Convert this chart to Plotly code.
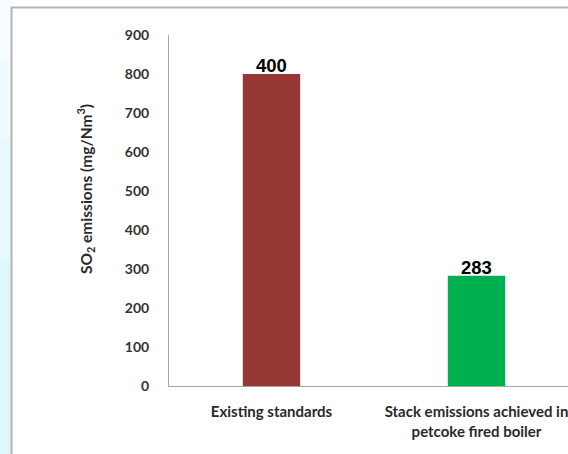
import plotly.graph_objects as go

# Chart data
categories = ["Existing standards", "Stack emissions achieved in<br>petcoke fired boiler"]
so2_values = [800, 283]
bar_labels = ["400", "283"]
bar_colors = ["#953735", "#00b050"]
y_ticks = [0, 100, 200, 300, 400, 500, 600, 700, 800, 900]
y_title = "SO<sub>2</sub> emissions (mg/Nm<sup>3</sup>)"

W, H = 568, 454
# plot area in pixels
L, R, T, B = 169, 568, 35, 386


def px_x(p):
    return (p - L) / (R - L)


def px_y(p):
    return (B - p) / (B - T)


fig = go.Figure()
fig.add_trace(go.Bar(
    x=[0, 1],
    y=so2_values,
    width=0.28,
    marker=dict(color=bar_colors, line=dict(width=0)),
    hoverinfo="skip",
))

annotations = []
# value labels sitting on top of each bar
for i, (v, lab) in enumerate(zip(so2_values, bar_labels)):
    annotations.append(dict(
        x=i, y=v, xref="x", yref="y", text=lab, showarrow=False,
        xanchor="center", yanchor="bottom", yshift=-4,
        font=dict(family="Arial", size=18.5, color="#000000", weight="bold"),
    ))
# rotated y-axis title
annotations.append(dict(
    x=px_x(86), y=px_y(189), xref="paper", yref="paper", text=y_title,
    showarrow=False, textangle=-90, xanchor="center", yanchor="middle",
    font=dict(family="Lato", size=15.5, color="#2a2a2a", weight="bold"),
))

shapes = []
# light aqua strip along the left edge of the page
strip = [(0, 60, "#f7fdfe"), (60, 140, "#eefbfc"), (140, 260, "#e6f9fb"), (260, 460, "#def7f9")]
for y0, y1, c in strip:
    shapes.append(dict(type="rect", xref="paper", yref="paper",
                       x0=px_x(-2), x1=px_x(11), y0=px_y(y1), y1=px_y(y0),
                       fillcolor=c, line=dict(width=0), layer="below"))
# outer frame
shapes.append(dict(type="rect", xref="paper", yref="paper",
                   x0=px_x(11.5), x1=px_x(600), y0=px_y(470), y1=px_y(7.5),
                   fillcolor="rgba(0,0,0,0)", line=dict(color="#b4b4b4", width=2), layer="below"))

fig.update_layout(
    width=W, height=H,
    margin=dict(l=L, r=W - R, t=T, b=H - B, pad=0),
    paper_bgcolor="#ffffff",
    plot_bgcolor="rgba(0,0,0,0)",
    showlegend=False,
    shapes=shapes,
    annotations=annotations,
    font=dict(family="Lato", color="#3c3c3c"),
    xaxis=dict(
        range=[-0.5, -0.5 + (R - L) / 205.0],
        tickmode="array",
        tickvals=[0, 1],
        ticktext=categories,
        tickfont=dict(family="Lato", size=15, color="#2a2a2a", weight="bold"),
        ticklabeloverflow="allow",
        showline=True, linecolor="#a6a6a6", linewidth=1,
        showgrid=False, zeroline=False, ticks="",
        ticklabelstandoff=12,
        fixedrange=True,
    ),
    yaxis=dict(
        range=[0, 900],
        tickmode="array",
        tickvals=y_ticks,
        tickfont=dict(family="Lato", size=14, color="#333333", weight="bold"),
        showline=True, linecolor="#a6a6a6", linewidth=1,
        showgrid=False, zeroline=False, ticks="",
        ticklabelstandoff=16,
        fixedrange=True,
    ),
)

fig.write_html("out.html")
